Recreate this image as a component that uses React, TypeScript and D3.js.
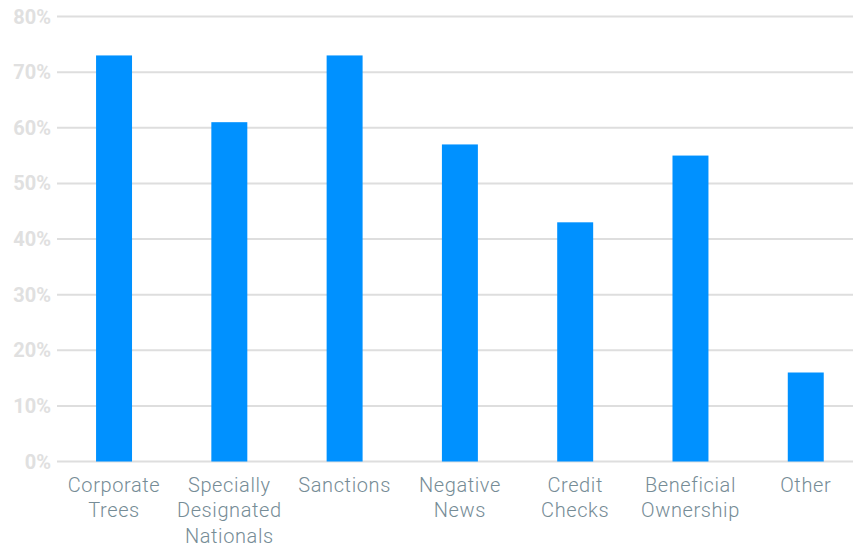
import React from "react";
import * as d3 from "d3";

const categories: string[][] = [
  ["Corporate", "Trees"],
  ["Specially", "Designated", "Nationals"],
  ["Sanctions"],
  ["Negative", "News"],
  ["Credit", "Checks"],
  ["Beneficial", "Ownership"],
  ["Other"],
];
const values: number[] = [73, 61, 73, 57, 43, 55, 16];
const yTicks: number[] = [0, 10, 20, 30, 40, 50, 60, 70, 80];

export default function App() {
  const W = 853;
  const H = 547;
  const keys = categories.map((c) => c.join(" "));
  const x = d3
    .scaleBand<string>()
    .domain(keys)
    .range([56.4, 863.4])
    .paddingInner(0.688)
    .paddingOuter(0.344);
  const y = d3.scaleLinear().domain([0, 80]).range([461.5, 16.5]);
  return (
    <svg
      width={W}
      height={H}
      style={{ position: "absolute", left: 0, top: 0, background: "#fff" }}
    >
      {yTicks.map((t) => (
        <g key={t}>
          <line
            x1={57}
            x2={W}
            y1={y(t)}
            y2={y(t)}
            stroke="#dedede"
            strokeWidth={2}
          />
          <text
            x={51}
            y={y(t)}
            dy="0.35em"
            textAnchor="end"
            fontFamily="Roboto, sans-serif"
            fontWeight={700}
            fontSize={20}
            fill="#e0e0e0"
          >
            {t}%
          </text>
        </g>
      ))}
      {values.map((v, i) => (
        <rect
          key={i}
          x={x(keys[i])}
          width={x.bandwidth()}
          y={y(v)}
          height={y(0) - y(v)}
          fill="#0091ff"
        />
      ))}
      {categories.map((lines, i) => (
        <text
          key={i}
          x={(x(keys[i]) as number) + x.bandwidth() / 2}
          y={492}
          textAnchor="middle"
          fontFamily="Roboto, sans-serif"
          fontWeight={300}
          fontSize={20}
          letterSpacing={0.6}
          fill="#768c96"
        >
          {lines.map((l, j) => (
            <tspan key={j} x={(x(keys[i]) as number) + x.bandwidth() / 2} dy={j === 0 ? 0 : 25.3}>
              {l}
            </tspan>
          ))}
        </text>
      ))}
    </svg>
  );
}
